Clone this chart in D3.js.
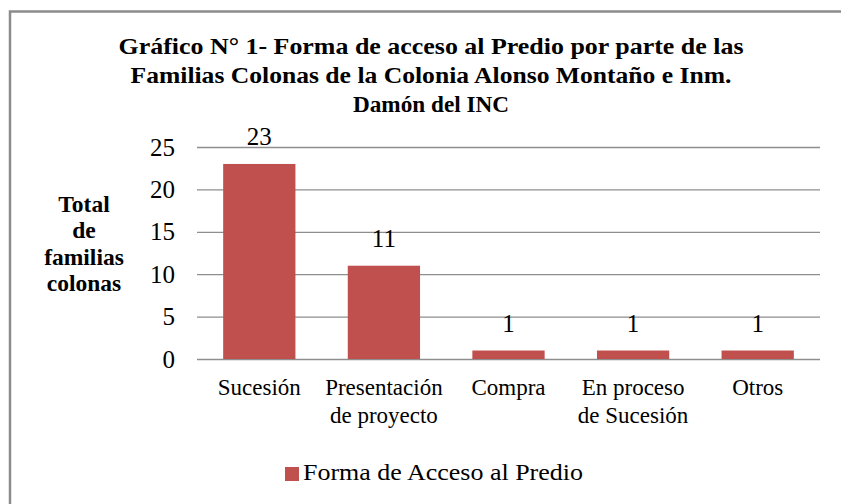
<!DOCTYPE html>
<html>
<head>
<meta charset="utf-8">
<script src="https://cdn.jsdelivr.net/npm/d3@7"></script>
</head>
<body style="margin:0; background:#fff">
<script>
// Datos del gráfico
var categorias = [["Sucesión"], ["Presentación", "de proyecto"], ["Compra"], ["En proceso", "de Sucesión"], ["Otros"]];
var valores = [23, 11, 1, 1, 1];
var ticksY = [0, 5, 10, 15, 20, 25];
var titulo = ["Gráfico N° 1- Forma de acceso al Predio por parte de las",
              "Familias Colonas de la Colonia Alonso Montaño e Inm.",
              "Damón del INC"];
var tituloY = ["Total", "de", "familias", "colonas"];
var serie = "Forma de Acceso al Predio";

var width = 841, height = 504;
var plot = {left: 197, right: 820, top: 147, bottom: 359};
var color = "#C0504D";
var fuente = "Liberation Serif";
var anchoTitulo = [625, 601, 156];

var svg = d3.select("body").append("svg")
    .attr("width", width)
    .attr("height", height);

svg.append("rect")
    .attr("width", width).attr("height", height)
    .attr("fill", "#fff");

// Borde del área del gráfico
svg.append("path")
    .attr("d", "M10,520 L10,11.5 L860,11.5")
    .attr("fill", "none")
    .attr("stroke", "#8c8c8c")
    .attr("stroke-width", 2.5);

// Escalas
var x = d3.scaleBand()
    .domain(d3.range(valores.length))
    .range([plot.left, plot.right]);

var y = d3.scaleLinear()
    .domain([0, 25])
    .range([plot.bottom, plot.top]);

// Líneas de cuadrícula
svg.append("g")
    .attr("transform", "translate(" + plot.left + ",0)")
    .call(d3.axisLeft(y).tickValues(ticksY).tickSize(-(plot.right - plot.left)).tickFormat(""))
    .call(g => g.select(".domain").remove())
    .call(g => g.selectAll("line").attr("stroke", "#8e8e8e").attr("stroke-width", 1.3));

// Etiquetas eje Y
svg.selectAll(".ytick")
  .data(ticksY)
  .enter().append("text")
    .attr("class", "ytick")
    .attr("x", 175)
    .attr("y", d => y(d))
    .attr("dy", "0.34em")
    .attr("text-anchor", "end")
    .attr("font-family", fuente)
    .attr("font-size", 25)
    .text(d => d);

// Barras
var barW = x.bandwidth() * 0.58;
svg.selectAll(".bar")
  .data(valores)
  .enter().append("rect")
    .attr("class", "bar")
    .attr("x", (d, i) => x(i) + (x.bandwidth() - barW) / 2)
    .attr("y", d => y(d))
    .attr("width", barW)
    .attr("height", d => y(0) - y(d))
    .attr("fill", color);

// Etiquetas de valores
svg.selectAll(".label")
  .data(valores)
  .enter().append("text")
    .attr("class", "label")
    .attr("x", (d, i) => x(i) + x.bandwidth() / 2)
    .attr("y", d => y(d) - 19)
    .attr("text-anchor", "middle")
    .attr("font-family", fuente)
    .attr("font-size", 25)
    .text(d => d);

// Categorías
var cat = svg.selectAll(".cat")
  .data(categorias)
  .enter().append("text")
    .attr("class", "cat")
    .attr("text-anchor", "middle")
    .attr("font-family", fuente)
    .attr("font-size", 23);
cat.selectAll("tspan")
  .data((d, i) => d.map(t => ({t: t, i: i})))
  .enter().append("tspan")
    .attr("x", d => x(d.i) + x.bandwidth() / 2)
    .attr("y", (d, j) => 395 + j * 28)
    .text(d => d.t);

// Título
svg.selectAll(".titulo")
  .data(titulo)
  .enter().append("text")
    .attr("class", "titulo")
    .attr("text-anchor", "middle")
    .attr("font-family", fuente)
    .attr("font-size", 24)
    .attr("font-weight", "bold")
    .attr("x", 431)
    .attr("y", (d, i) => 54 + i * 29)
    .attr("textLength", (d, i) => anchoTitulo[i])
    .attr("lengthAdjust", "spacingAndGlyphs")
    .text(d => d);

// Título eje Y
svg.append("text")
    .attr("text-anchor", "middle")
    .attr("font-family", fuente)
    .attr("font-size", 23.5)
    .attr("font-weight", "bold")
  .selectAll("tspan")
  .data(tituloY)
  .enter().append("tspan")
    .attr("x", 84)
    .attr("y", (d, i) => 212 + i * 26.3)
    .text(d => d);

// Leyenda
var leg = svg.append("g");
leg.append("rect")
    .attr("x", 285).attr("y", 467)
    .attr("width", 14).attr("height", 14)
    .attr("fill", color);
leg.append("text")
    .attr("x", 303).attr("y", 480)
    .attr("font-family", fuente)
    .attr("font-size", 23)
    .attr("textLength", 280)
    .attr("lengthAdjust", "spacingAndGlyphs")
    .text(serie);
</script>
</body>
</html>
